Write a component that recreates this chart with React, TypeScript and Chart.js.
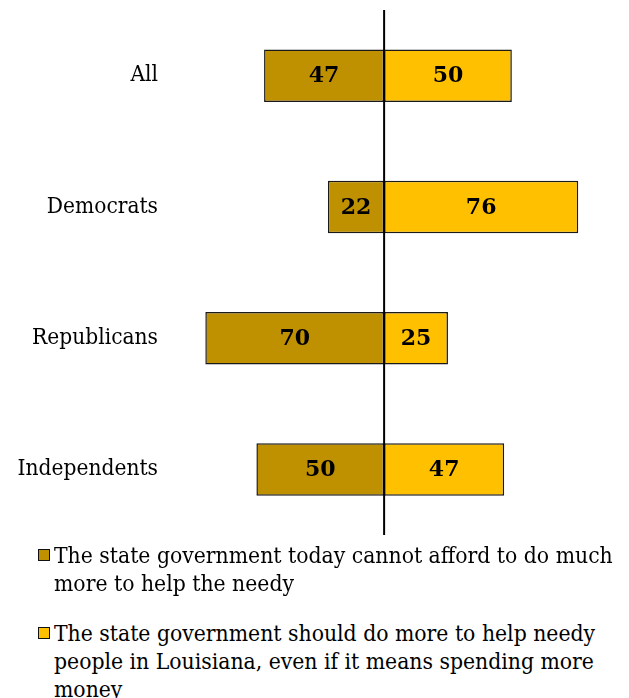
import React, { useEffect, useRef } from "react";
import { Chart, registerables } from "chart.js";

Chart.register(...registerables);

const categories = ["All", "Democrats", "Republicans", "Independents"];
const cannotAfford = [47, 22, 70, 50];
const shouldDoMore = [50, 76, 25, 47];
const legendLabels = [
  ["The state government today cannot afford to do much", "more to help the needy"],
  ["The state government should do more to help needy", "people in Louisiana, even if it means spending more", "money"],
];
const DARK = "#BF9000";
const LIGHT = "#FFC000";
const FONT = "'DejaVu Serif Condensed', 'DejaVu Serif'";

const valuePlugin = {
  id: "valueLabels",
  afterDatasetsDraw(chart: any) {
    const ctx = chart.ctx;
    const x = chart.scales.x;
    const area = chart.chartArea;
    const zx = x.getPixelForValue(0);
    ctx.save();
    ctx.strokeStyle = "#000";
    ctx.lineWidth = 2;
    ctx.beginPath();
    ctx.moveTo(zx, area.top);
    ctx.lineTo(zx, area.bottom);
    ctx.stroke();
    ctx.font = "bold 22px 'DejaVu Serif'";
    ctx.fillStyle = "#000";
    ctx.textAlign = "center";
    ctx.textBaseline = "middle";
    chart.data.datasets.forEach((ds: any, di: number) => {
      const meta = chart.getDatasetMeta(di);
      meta.data.forEach((bar: any, i: number) => {
        const v = Math.abs(ds.data[i]);
        const cx = (bar.x + bar.base) / 2;
        ctx.fillText(String(v), cx, bar.y + 1);
      });
    });
    ctx.restore();
  },
};

export default function App() {
  const ref = useRef<HTMLCanvasElement>(null);
  useEffect(() => {
    if (!ref.current) return;
    const chart = new Chart(ref.current, {
      type: "bar",
      data: {
        labels: categories,
        datasets: [
          {
            label: legendLabels[0].join(" "),
            data: cannotAfford.map((v) => -v),
            backgroundColor: DARK,
            borderColor: "#1a1a1a",
            borderWidth: 1.5,
            borderSkipped: false,
            barPercentage: 0.4,
            categoryPercentage: 1,
          },
          {
            label: legendLabels[1].join(" "),
            data: shouldDoMore,
            backgroundColor: LIGHT,
            borderColor: "#1a1a1a",
            borderWidth: 1.5,
            borderSkipped: false,
            barPercentage: 0.4,
            categoryPercentage: 1,
          },
        ],
      },
      options: {
        indexAxis: "y",
        responsive: false,
        animation: false,
        layout: { padding: { top: 10, bottom: 10, left: 0, right: 15 } },
        plugins: { legend: { display: false }, tooltip: { enabled: false }, title: { display: false } },
        scales: {
          x: { stacked: true, min: -85, max: 90, display: false },
          y: {
            stacked: true,
            grid: { display: false, drawTicks: false },
            border: { display: false },
            ticks: { color: "#000", padding: 9, font: { family: FONT, size: 22.5 } },
            afterFit: (s: any) => {
              s.width = 167;
              s.paddingTop = 0;
              s.paddingBottom = 0;
            },
          },
        },
      },
      plugins: [valuePlugin],
    });
    return () => chart.destroy();
  }, []);

  const colors = [DARK, LIGHT];
  const tops = [541, 619];
  return (
    <div style={{ position: "absolute", left: 0, top: 0, width: 629, height: 698, background: "#fff" }}>
      <canvas ref={ref} width={629} height={545} style={{ position: "absolute", left: 0, top: 0 }} />
      {legendLabels.map((lines, k) => (
        <div key={k} style={{ position: "absolute", left: 38, top: tops[k] }}>
          <div
            style={{
              position: "absolute",
              left: 0,
              top: 8,
              width: 10,
              height: 10,
              background: colors[k],
              border: "1px solid #111",
            }}
          />
          <div
            style={{
              position: "absolute",
              left: 16,
              top: 0,
              whiteSpace: "nowrap",
              fontFamily: FONT,
              fontSize: 22.7,
              lineHeight: "28px",
              color: "#000",
            }}
          >
            {lines.map((l, j) => (
              <div key={j}>{l}</div>
            ))}
          </div>
        </div>
      ))}
    </div>
  );
}
